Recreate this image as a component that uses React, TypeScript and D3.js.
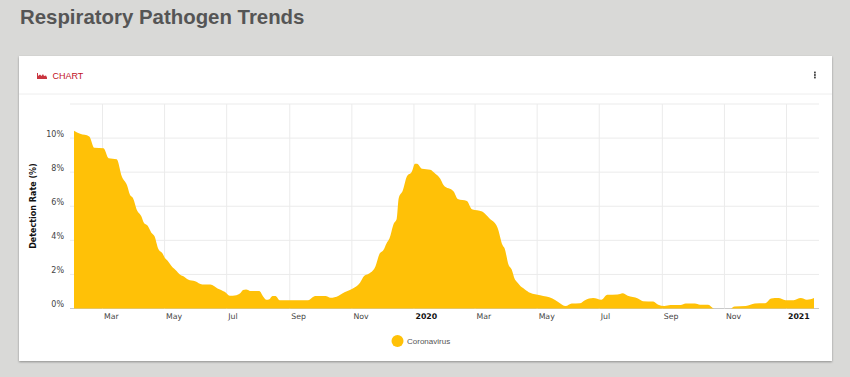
import React from "react";
import * as d3 from "d3";

const TITLE = "Respiratory Pathogen Trends";
const SERIES_NAME = "Coronavirus";
const START_DATE = Date.UTC(2019, 1, 1);
const DAY_MS = 86400000;
const yTicks = [0, 2, 4, 6, 8, 10, 12];
const dayOffsets = [
  0, 6, 15, 20, 29, 34, 42, 47, 52, 55, 58, 62, 66, 69, 72, 76, 79, 83, 87, 89, 92, 97, 100, 104, 107, 112, 119, 126, 134, 141, 148, 153, 156, 163, 166, 169, 174, 182, 186, 189, 192, 195, 198, 202, 230, 237, 247, 252, 260, 264, 271, 276, 281, 285, 289, 296, 300, 304, 307, 310, 314, 317, 319, 323, 327, 332, 335, 337, 342, 350, 355, 360, 363, 373, 377, 386, 391, 401, 408, 416, 421, 423, 427, 430, 433, 435, 440, 443, 448, 458, 470, 476, 483, 489, 497, 502, 510, 518, 524, 534, 539, 544, 554, 559, 569, 574, 580, 586, 596, 601, 610, 615, 623, 629, 645, 649, 660, 669, 679, 685, 692, 699, 707, 714, 720, 727,
];
const rates = [
  10.43, 10.25, 10.1, 9.43, 9.4, 8.82, 8.76, 7.75, 7.25, 6.67, 6.47, 5.75, 5.43, 5.0, 4.88, 4.45, 4.25, 3.47, 3.23, 3.0, 2.8, 2.4, 2.25, 2.0, 1.9, 1.7, 1.6, 1.41, 1.41, 1.18, 0.98, 0.75, 0.75, 0.88, 1.08, 1.12, 1.02, 1.02, 0.69, 0.51, 0.55, 0.73, 0.73, 0.49, 0.49, 0.73, 0.73, 0.63, 0.75, 0.9, 1.08, 1.24, 1.51, 1.9, 2.02, 2.45, 3.18, 3.43, 3.82, 4.12, 4.96, 5.25, 6.47, 6.92, 7.75, 8.04, 8.49, 8.5, 8.2, 8.14, 7.9, 7.6, 7.25, 6.86, 6.43, 6.31, 5.82, 5.69, 5.29, 4.76, 3.73, 3.53, 2.55, 2.29, 1.73, 1.57, 1.24, 1.12, 0.92, 0.78, 0.59, 0.37, 0.14, 0.29, 0.31, 0.49, 0.61, 0.51, 0.8, 0.82, 0.9, 0.75, 0.59, 0.43, 0.41, 0.22, 0.14, 0.2, 0.2, 0.29, 0.29, 0.22, 0.22, 0, 0, 0.12, 0.14, 0.29, 0.31, 0.59, 0.61, 0.49, 0.49, 0.61, 0.51, 0.61,
];

const W = 850, H = 377;
const plot = { left: 74, right: 814, gridRight: 819, gridLeft: 70, top: 104, bottom: 308.5 };
const AMBER = "#ffc107";
const GRID = "#ebebeb";
const LABEL = '"DejaVu Sans", sans-serif';
const SANS = '"Liberation Sans", Arial, sans-serif';

export default function App() {
  const x = d3.scaleUtc()
    .domain([new Date(START_DATE), new Date(START_DATE + 727 * DAY_MS)])
    .range([plot.left, plot.right]);
  const y = d3.scaleLinear().domain([0, 12]).range([plot.bottom, plot.top]);
  const points = dayOffsets.map((d, i) => ({ date: new Date(START_DATE + d * DAY_MS), v: rates[i] }));
  const area = d3.area<{ date: Date; v: number }>()
    .x((d) => x(d.date)).y0(y(0)).y1((d) => y(d.v)).curve(d3.curveMonotoneX);
  const xTicks = x.ticks(d3.utcMonth.every(2)!);
  const isYear = (d: Date) => d.getUTCMonth() === 0;
  const fmt = (d: Date) => (isYear(d) ? d3.utcFormat("%Y")(d) : d3.utcFormat("%b")(d));

  return (
    <svg width={W} height={H} viewBox={`0 0 ${W} ${H}`} style={{ position: "absolute", left: 0, top: 0, background: "#d9d9d7" }}>
      <defs>
        <filter id="cardShadow" x="-2%" y="-3%" width="104%" height="106%">
          <feDropShadow dx="0" dy="1" stdDeviation="1" floodColor="#000" floodOpacity="0.35" />
        </filter>
      </defs>
      <text x={20} y={24} fontFamily={SANS} fontWeight={700} fontSize={20.4} fill="#555">{TITLE}</text>
      <rect x={19} y={56} width={813} height={305} fill="#fff" filter="url(#cardShadow)" />
      <line x1={19} x2={832} y1={94} y2={94} stroke="#eee" />
      <path d="M37 79 V73 H38 V76 L40 74.5 L41.5 76 L43 74 L44 76 L46 75.5 L47 77.5 V79 Z" fill="#c1121f" opacity={0.85} />
      <text x={52.5} y={79} fontFamily={SANS} fontSize={9} fill="#c1121f">CHART</text>
      {[72.5, 75, 77.5].map((cy) => <rect key={cy} x={814} y={cy - 0.9} width={1.8} height={1.8} fill="#444" />)}

      {yTicks.map((t) => (
        <line key={t} x1={plot.gridLeft} x2={plot.gridRight} y1={y(t)} y2={y(t)} stroke={t === 0 ? "#c9c9c9" : GRID} />
      ))}
      {xTicks.map((t) => (
        <line key={+t} x1={x(t)} x2={x(t)} y1={plot.top} y2={plot.bottom} stroke={GRID} />
      ))}
      <path d={area(points)!} fill={AMBER} />

      {yTicks.filter((t) => t <= 10).map((t) => (
        <text key={t} x={64} y={y(t) - 4} dy="0.35em" textAnchor="end" fontFamily={LABEL} fontSize={8} fill="#444">{t}%</text>
      ))}
      {xTicks.map((t) => (
        <text key={+t} x={x(t) + 1.5} y={317} dy="0.32em" fontFamily={LABEL} fontSize={7.8}
          fontWeight={isYear(t) ? 700 : 400} fill={isYear(t) ? "#111" : "#444"}>{fmt(t)}</text>
      ))}
      <text transform="translate(33,206) rotate(-90)" dy="0.35em" textAnchor="middle" fontFamily={LABEL} fontWeight={700} fontSize={8} fill="#111">Detection Rate (%)</text>

      <circle cx={397.5} cy={341} r={6} fill={AMBER} />
      <text x={407} y={341.5} dy="0.35em" fontFamily={SANS} fontSize={8} fill="#555">{SERIES_NAME}</text>
    </svg>
  );
}
